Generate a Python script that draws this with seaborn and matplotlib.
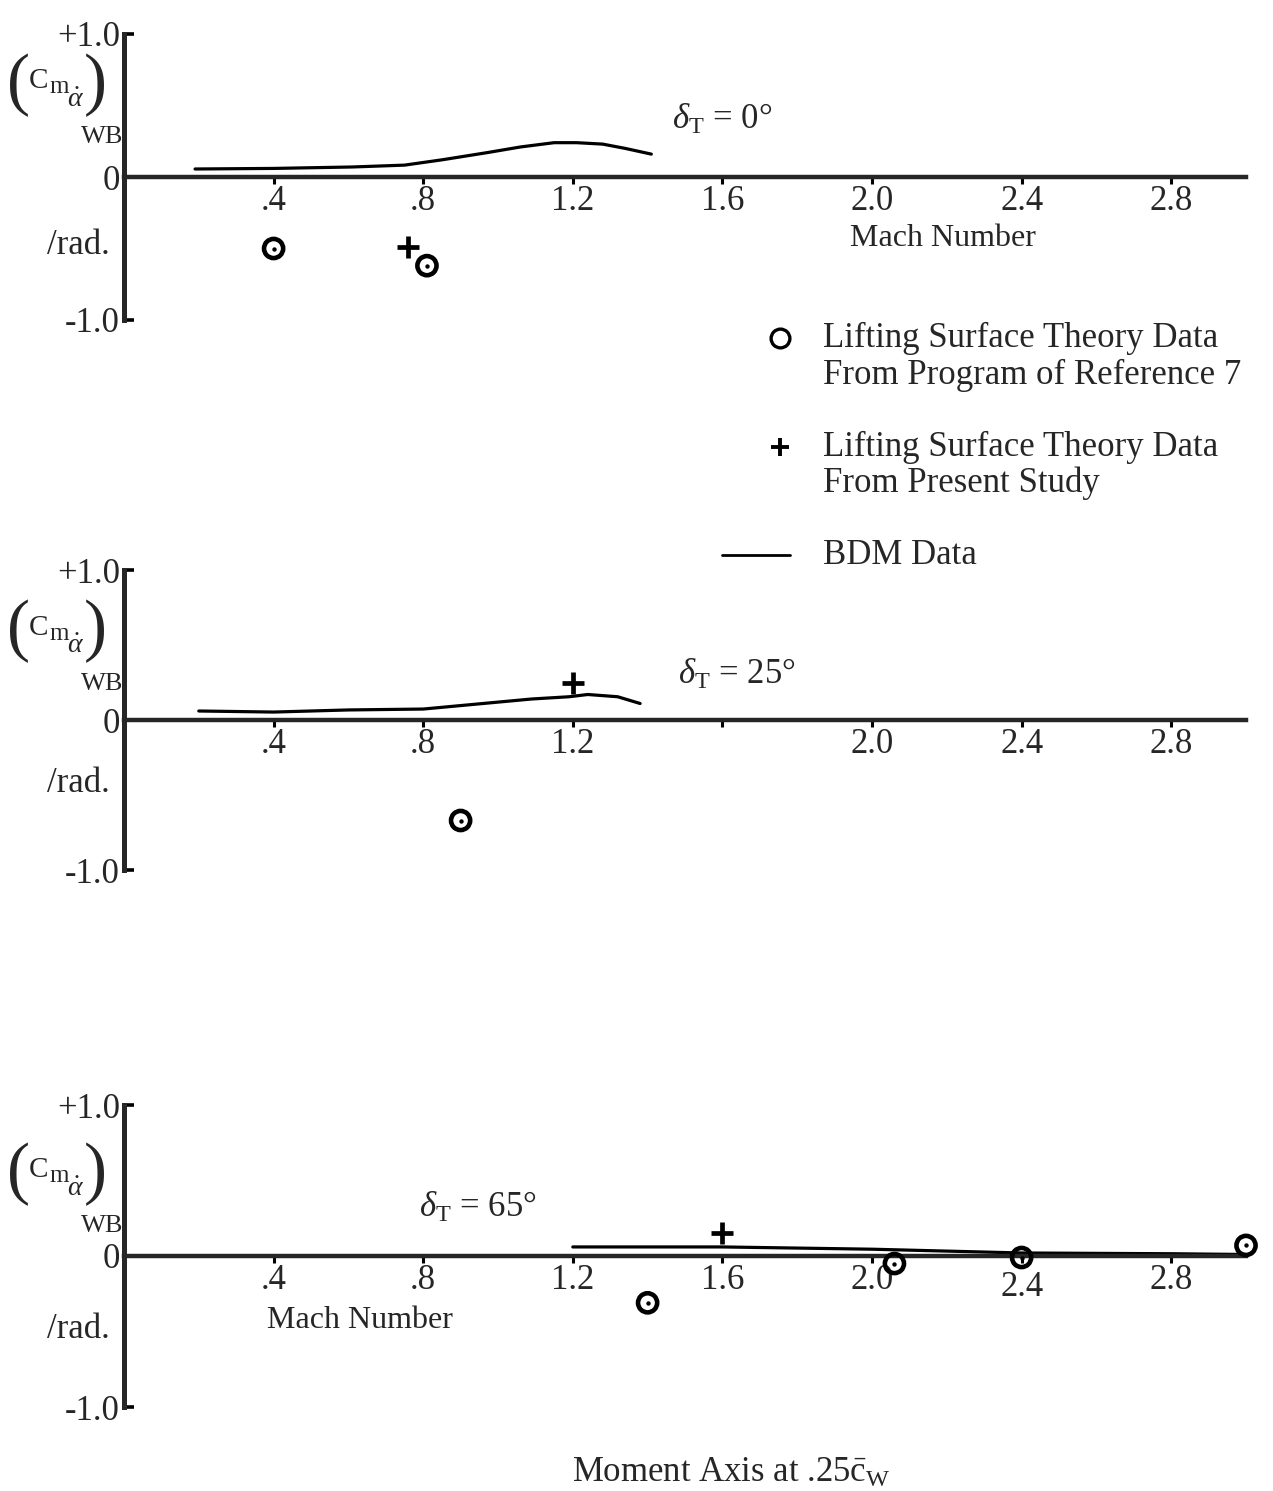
import matplotlib
matplotlib.use("Agg")
import matplotlib.pyplot as plt
from matplotlib.lines import Line2D
from matplotlib.transforms import ScaledTranslation
import seaborn as sns

sns.set_style("white")
plt.rcParams["font.family"] = ["Liberation Serif", "DejaVu Serif"]
plt.rcParams["mathtext.fontset"] = "custom"
plt.rcParams["mathtext.rm"] = "Liberation Serif"
plt.rcParams["mathtext.it"] = "Liberation Serif:italic"
plt.rcParams["mathtext.bf"] = "Liberation Serif:bold"

# ---------------- data ----------------
mach_ticks = [0.4, 0.8, 1.2, 1.6, 2.0, 2.4, 2.8]
tick_labels_full = [".4", ".8", "1.2", "1.6", "2.0", "2.4", "2.8"]
tick_labels_p2 = [".4", ".8", "1.2", "", "2.0", "2.4", "2.8"]

# delta_T = 0 deg
bdm0_mach = [0.19, 0.40, 0.61, 0.75, 0.85, 0.97, 1.06, 1.15, 1.21, 1.28, 1.34, 1.41]
bdm0_cm = [0.056, 0.06, 0.07, 0.083, 0.12, 0.17, 0.21, 0.24, 0.24, 0.23, 0.20, 0.16]
ref7_0_mach = [0.40, 0.81]
ref7_0_cm = [-0.50, -0.62]
present_0_mach = [0.76]
present_0_cm = [-0.49]

# delta_T = 25 deg
bdm25_mach = [0.20, 0.40, 0.60, 0.80, 0.96, 1.09, 1.19, 1.24, 1.32, 1.38]
bdm25_cm = [0.06, 0.053, 0.067, 0.073, 0.11, 0.14, 0.155, 0.17, 0.155, 0.11]
ref7_25_mach = [0.90]
ref7_25_cm = [-0.67]
present_25_mach = [1.20]
present_25_cm = [0.25]

# delta_T = 65 deg
bdm65_mach = [1.20, 1.60, 2.00, 2.40, 2.80, 3.00]
bdm65_cm = [0.06, 0.06, 0.045, 0.02, 0.015, 0.01]
ref7_65_mach = [1.40, 2.06, 2.40, 3.00]
ref7_65_cm = [-0.31, -0.05, -0.01, 0.07]
present_65_mach = [1.60]
present_65_cm = [0.15]

# ---------------- layout ----------------
W, H = 1273, 1491
FS = 25
fig = plt.figure(figsize=(W / 100, H / 100), dpi=100)

def px_rect(left, top, width, height):
    return [left / W, 1 - (top + height) / H, width / W, height / H]

X_LEFT = 124
X_UNIT = 374
X_MAX = 3.05

panels = [
    dict(top=34, bottom=320, bdm=(bdm0_mach, bdm0_cm), ref=(ref7_0_mach, ref7_0_cm),
         pres=(present_0_mach, present_0_cm), labels=tick_labels_full,
         delta=(1.465, 0.40, r"$\delta_{\mathrm{T}}$ = 0°"), ylab_y=0.64, rad_y=-0.48,
         mach=(2.19, -0.43), low_label=None),
    dict(top=570, bottom=870, bdm=(bdm25_mach, bdm25_cm), ref=(ref7_25_mach, ref7_25_cm),
         pres=(present_25_mach, present_25_cm), labels=tick_labels_p2,
         delta=(1.48, 0.30, r"$\delta_{\mathrm{T}}$ = 25°"), ylab_y=0.59, rad_y=-0.42,
         mach=None, low_label=None),
    dict(top=1105, bottom=1407, bdm=(bdm65_mach, bdm65_cm), ref=(ref7_65_mach, ref7_65_cm),
         pres=(present_65_mach, present_65_cm), labels=tick_labels_full,
         delta=(0.79, 0.32, r"$\delta_{\mathrm{T}}$ = 65°"), ylab_y=0.54, rad_y=-0.49,
         mach=(0.63, -0.43), low_label=5),
]

# pieces of the (C_m_alpha-dot)_WB label: text, dx, dy (pixels from anchor), size
ylabel_parts = [
    ("(", -105, 0, 50),
    ("C", -85, 4, 21),
    ("m", -65, -2, 18),
    (r"$\dot{\alpha}$", -48, -15, 20),
    (")", -29, 0, 50),
    ("WB", -22, -52, 19),
]

for p in panels:
    ax = fig.add_axes(px_rect(X_LEFT, p["top"], X_UNIT * X_MAX, p["bottom"] - p["top"]))
    ax.set_facecolor("none")

    # BDM curve
    sns.lineplot(x=p["bdm"][0], y=p["bdm"][1], ax=ax, color="black", lw=2.3,
                 sort=False, estimator=None, legend=False)
    # Reference-7 program points: ring with centre dot
    sns.scatterplot(x=p["ref"][0], y=p["ref"][1], ax=ax, marker="o", s=190,
                    facecolor="none", edgecolor="black", linewidth=3.3, zorder=5,
                    legend=False)
    sns.scatterplot(x=p["ref"][0], y=p["ref"][1], ax=ax, marker="o", s=10,
                    color="black", linewidth=0, zorder=6, legend=False)
    # Present-study points
    sns.scatterplot(x=p["pres"][0], y=p["pres"][1], ax=ax, marker="+", s=270,
                    color="black", linewidth=3.4, zorder=5, legend=False)

    ax.set_xlim(0, X_MAX)
    ax.set_ylim(-1.0, 1.0)

    for side in ("top", "right"):
        ax.spines[side].set_visible(False)
    ax.spines["bottom"].set_position(("data", 0))
    ax.spines["bottom"].set_bounds(0, 3.0)
    ax.spines["bottom"].set_linewidth(3.2)
    ax.spines["left"].set_bounds(-1.0, 1.0)
    ax.spines["left"].set_linewidth(3.6)

    ax.set_xticks(mach_ticks)
    ax.set_xticklabels(p["labels"], fontsize=FS)
    ax.set_yticks([-1.0, 0.0, 1.0])
    ax.set_yticklabels(["-1.0", "0", "+1.0"], fontsize=FS)
    ax.tick_params(axis="x", bottom=True, direction="out", length=5, width=2.2,
                   pad=0.5, color="black")
    ax.tick_params(axis="y", left=True, direction="in", length=7, width=2.6,
                   pad=3, color="black")
    ax.set_xlabel("")
    ax.set_ylabel("")
    if p["low_label"] is not None:
        lab = ax.get_xticklabels()[p["low_label"]]
        lab.set_transform(lab.get_transform()
                          + ScaledTranslation(0, -0.07, fig.dpi_scale_trans))

    ytr = ax.get_yaxis_transform()
    for txt, dx, dy, size in ylabel_parts:
        ax.annotate(txt, xy=(0, p["ylab_y"]), xycoords=ytr, xytext=(dx, dy),
                    textcoords="offset pixels", ha="center", va="center",
                    fontsize=size, annotation_clip=False)
    ax.annotate("/rad.", xy=(0, p["rad_y"]), xycoords=ytr, xytext=(-14, 0),
                textcoords="offset pixels", ha="right", va="center", fontsize=FS,
                annotation_clip=False)

    dx, dy, dtext = p["delta"]
    ax.text(dx, dy, dtext, ha="left", va="center", fontsize=FS)
    if p["mach"] is not None:
        ax.text(p["mach"][0], p["mach"][1], "Mach Number", ha="center", va="center",
                fontsize=23)

# ---------------- key ----------------
def fx(x):
    return x / W

def fy(y):
    return 1 - y / H

fig.add_artist(Line2D([fx(780)], [fy(338)], marker="o", markersize=13.5,
                      markerfacecolor="none", markeredgecolor="black",
                      markeredgewidth=2.4, transform=fig.transFigure))
fig.add_artist(Line2D([fx(780)], [fy(447)], marker="+", markersize=13,
                      markeredgecolor="black", markeredgewidth=2.8,
                      transform=fig.transFigure))
fig.add_artist(Line2D([fx(722), fx(790)], [fy(555), fy(555)], color="black",
                      lw=2.0, transform=fig.transFigure))

fig.text(fx(823), fy(338), "Lifting Surface Theory Data", ha="left", va="center", fontsize=FS)
fig.text(fx(823), fy(375), "From Program of Reference 7", ha="left", va="center", fontsize=FS)
fig.text(fx(823), fy(447), "Lifting Surface Theory Data", ha="left", va="center", fontsize=FS)
fig.text(fx(823), fy(483), "From Present Study", ha="left", va="center", fontsize=FS)
fig.text(fx(823), fy(555), "BDM Data", ha="left", va="center", fontsize=FS)

fig.text(fx(731), fy(1473), r"Moment Axis at .25$\bar{\mathrm{c}}_{\mathrm{W}}$",
         ha="center", va="center", fontsize=FS)

fig.savefig("out.png", dpi=100, facecolor="white")
